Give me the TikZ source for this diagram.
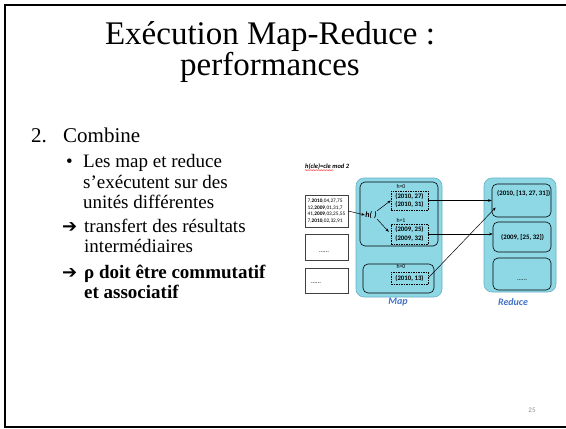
\documentclass[tikz,border=0pt]{standalone}
\usepackage{fontspec}
\setmainfont{Liberation Serif}[BoldFont={Liberation Serif Bold}]
\newfontfamily\calibri{Carlito}
\newfontfamily\dingfont{DejaVu Sans}
\usetikzlibrary{arrows.meta,positioning,decorations.pathmorphing}
\definecolor{mapcyan}{RGB}{142,216,230}
\definecolor{mapedge}{RGB}{104,176,196}
\definecolor{labelblue}{RGB}{68,114,196}

\begin{document}
\begin{tikzpicture}[x=1pt, y=-1pt,
  txt/.style={anchor=base west, inner sep=0pt, font=\fontsize{19}{22}\selectfont},
  boldtxt/.style={txt, font=\bfseries\fontsize{19}{22}\selectfont},
  ding/.style={txt, font=\dingfont\fontsize{18}{20}\selectfont},
  phase/.style={draw=mapedge, fill=mapcyan, rounded corners=8pt, line width=0.6pt},
  part/.style={draw=black, rounded corners=5pt, line width=0.6pt},
  pairs/.style={draw, dash pattern=on 1.5pt off 1pt, line width=0.4pt, inner sep=0pt, align=left,
    font=\calibri\bfseries\fontsize{6.8}{8.2}\selectfont},
  tag/.style={inner sep=0pt, font=\calibri\fontsize{5.8}{6}\selectfont},
  split/.style={draw=black!75, fill=white, line width=0.5pt, inner sep=0pt},
  phasename/.style={inner sep=0pt, text=labelblue, font=\calibri\bfseries\itshape\fontsize{10}{11}\selectfont},
  flow/.style={-{Stealth[length=3.5pt,width=2.6pt]}, line width=0.5pt}]

\useasboundingbox (0,0) rectangle (566,429);

% slide frame
\draw[line width=2pt] (570,5) -- (5,5) -- (5,427) -- (570,427);

%% title and text
\path
(270,44) node[anchor=base, inner sep=0pt, font=\fontsize{33}{38}\selectfont](title1){Exécution Map-Reduce :}
(270,75) node[anchor=base, inner sep=0pt, font=\fontsize{33}{38}\selectfont](title2){performances};
\path
(31,142) node[txt, font=\fontsize{21}{24}\selectfont](num){2.}
(63,142) node[txt, font=\fontsize{21}{24}\selectfont](combine){Combine}
(66,167) node[txt](bullet){•}
(83,167) node[txt](l1){Les map et reduce}
(83,188) node[txt](l2){s’exécutent sur des}
(83,208) node[txt](l3){unités différentes}
(62,232) node[ding](arr1){➔}
(84,232) node[txt](l4){transfert des résultats}
(84,252) node[txt](l5){intermédiaires}
(62,278) node[ding](arr2){➔}
(84,278) node[boldtxt](l6){ρ doit être commutatif}
(84,298) node[boldtxt](l7){et associatif};

\node[inner sep=0pt, text=black!45, font=\calibri\fontsize{7}{8}\selectfont] (page) at (532,410) {25};

%% hash function
\node[anchor=west, inner sep=0pt, font=\calibri\bfseries\itshape\fontsize{6.5}{7}\selectfont] (hash) at (305,167) {h(cle)=cle mod 2};
\draw[red, line width=0.35pt, decorate, decoration={snake, amplitude=0.35pt, segment length=1.6pt}]
(hash.south west) -- ([xshift=-16pt]hash.south east);

%% input splits
\node[split, minimum width=43pt, minimum height=32pt, align=left,
  font=\calibri\fontsize{5.3}{6.5}\selectfont] (in1) at (326.5,211)
{7,\textbf{2010},04,27,75\\12,\textbf{2009},01,31,7\\41,\textbf{2009},03,25,55\\7,\textbf{2010},02,32,91};
\node[split, minimum width=43pt, minimum height=26pt] (in2) at (326.5,247) {};
\node[split, minimum width=43pt, minimum height=25pt] (in3) at (326.5,280.5) {};
\node[inner sep=0pt, font=\calibri\fontsize{6.5}{7}\selectfont] (dots2) at (324,252) {......};
\node[inner sep=0pt, font=\calibri\fontsize{6.5}{7}\selectfont] (dots3) at (316,283) {......};

%% Map phase
\node[phase, minimum width=86pt, minimum height=119pt] (map) at (399,237.5) {};
\node[part, minimum width=78pt, minimum height=64pt] (upper) at (399,214) {};
\node[part, minimum width=71pt, minimum height=29pt] (lower) at (398.5,278.5) {};
\node[phasename] (maplabel) at (398,302) {Map};

\node[tag] (h0a) at (401,187) {h=0};
\node[pairs, minimum width=37pt, minimum height=19pt] (pair1) at (409.5,200.5) {(2010, 27)\\(2010, 31)};
\node[tag] (h1) at (401,220) {h=1};
\node[pairs, minimum width=37pt, minimum height=20pt] (pair2) at (409.5,234) {(2009, 25)\\(2009, 32)};
\node[tag] (h0b) at (401,267) {h=0};
\node[pairs, minimum width=37pt, minimum height=12pt] (pair3) at (409.5,278) {(2010, 13)};
\node[inner sep=0.5pt, font=\calibri\bfseries\itshape\fontsize{8}{9}\selectfont] (hfun) at (371,215) {h( )};

%% Reduce phase
\node[phase, minimum width=72pt, minimum height=114pt] (reduce) at (520,235) {};
\node[part, minimum width=59pt, minimum height=33pt] (red1) at (521.5,200.5) {};
\node[part, minimum width=58pt, minimum height=30pt] (red2) at (522,237) {};
\node[part, minimum width=58pt, minimum height=32pt] (red3) at (522,274) {};
\node[phasename] (redlabel) at (513,302) {Reduce};
\node[anchor=west, inner sep=0pt, font=\calibri\bfseries\fontsize{6.8}{8}\selectfont] (out1) at (497,193) {(2010, [13, 27, 31])};
\node[anchor=west, inner sep=0pt, font=\calibri\bfseries\fontsize{6.8}{8}\selectfont] (out2) at (501,237) {(2009, [25, 32])};
\node[inner sep=0pt, font=\calibri\fontsize{6.5}{7}\selectfont] (dots4) at (522,280) {......};

%% Arrows from the split through h( ) to the reducers
\draw[flow] (in1.east) -- (hfun.west);
\draw[flow] (hfun.north east) -- (pair1.west);
\draw[flow, shorten >=3pt] (hfun.south east) -- (pair2.west);
\draw[flow] (pair1.east) -- (pair1.east -| red1.west);
\draw[flow] (pair2.east) -- (pair2.east -| red2.west);
\draw[flow] (pair3.east) -- ([xshift=4pt,yshift=-7pt]red1.west);

\end{tikzpicture}
\end{document}
